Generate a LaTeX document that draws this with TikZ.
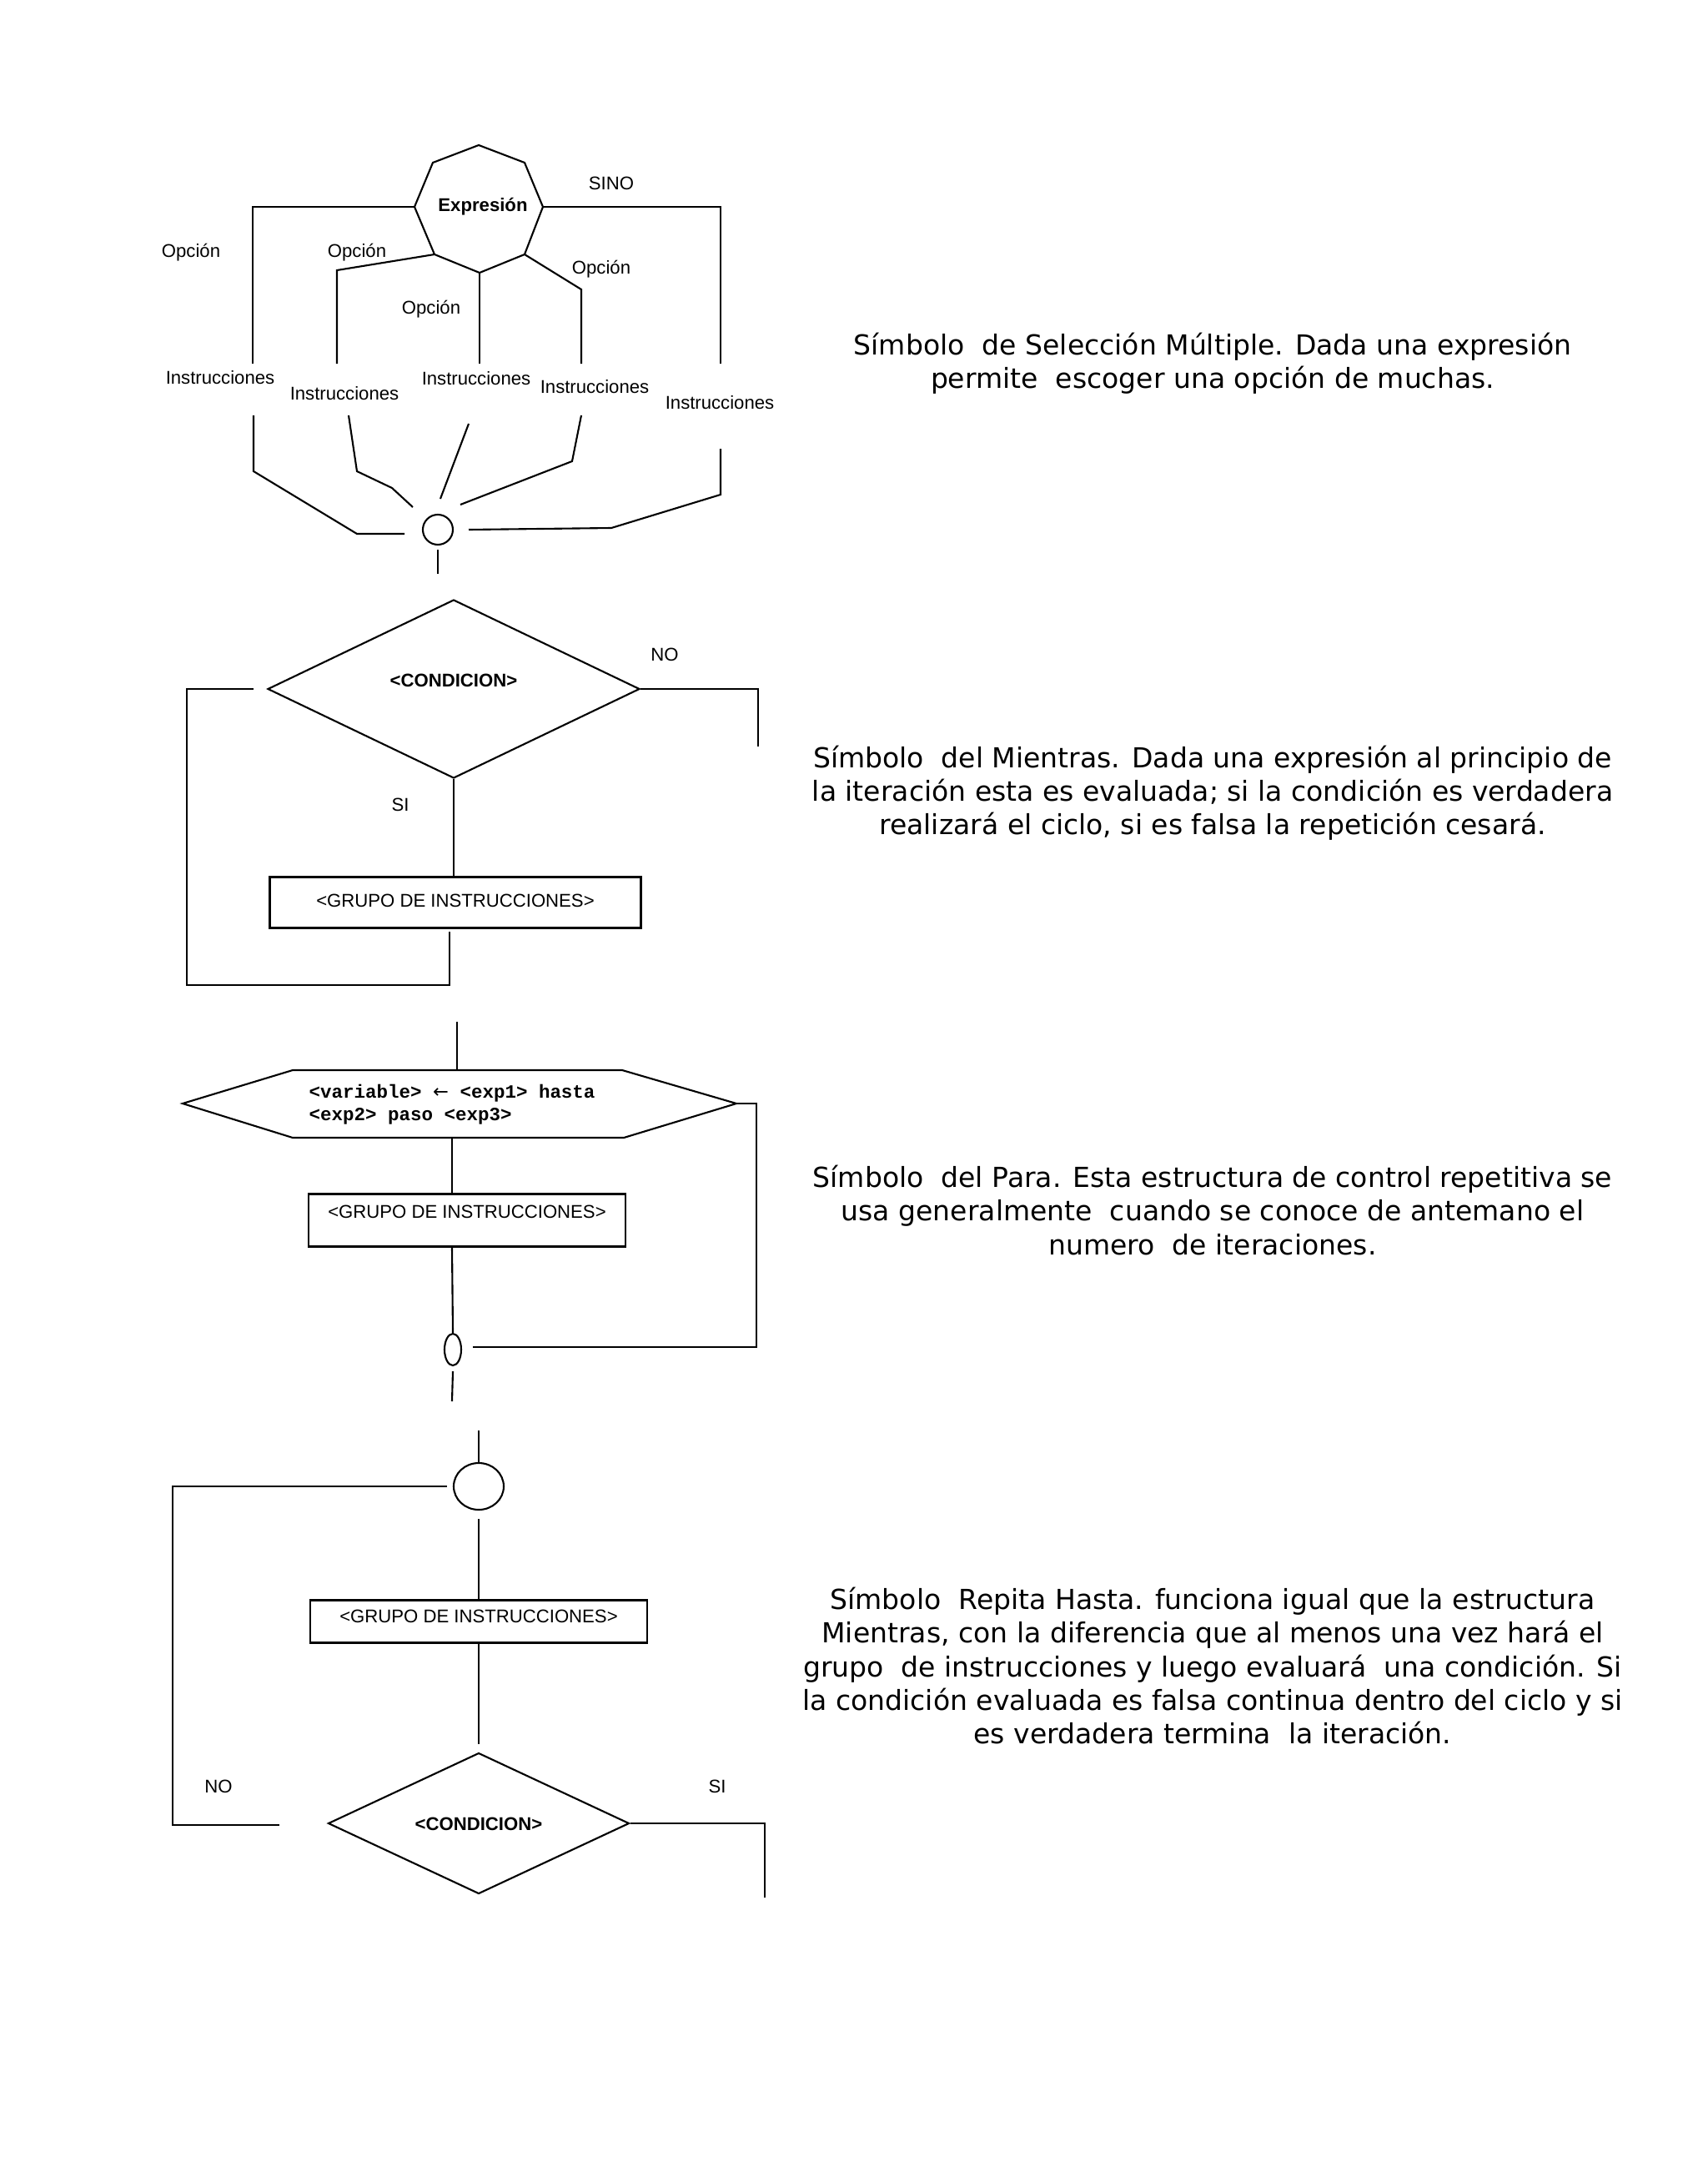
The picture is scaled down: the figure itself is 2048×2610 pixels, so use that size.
\documentclass[tikz,border=0pt]{standalone}
\usepackage{fontspec}
\setmainfont{DejaVu Sans}
\newfontfamily\diagfont{Liberation Sans}
\newfontfamily\codefont{Liberation Mono}
\usetikzlibrary{shapes.geometric}

\begin{document}
\begin{tikzpicture}[x=0.1mm, y=-0.1mm,
  wire/.style={line width=0.6pt, black},
  lbl/.style={font=\diagfont\fontsize{6.3}{7.5}\selectfont, inner sep=0pt},
  blbl/.style={font=\diagfont\bfseries\fontsize{6.3}{7.5}\selectfont, inner sep=0pt},
  box/.style={rectangle, draw, line width=0.6pt, inner sep=0pt, text height=4.6pt, font=\diagfont\fontsize{6.3}{7.5}\selectfont},
  cond/.style={diamond, draw, line width=0.6pt, inner sep=0pt, text height=4.6pt, font=\diagfont\bfseries\fontsize{6.3}{7.5}\selectfont},
  junc/.style={ellipse, draw, line width=0.6pt, inner sep=0pt},
  desc/.style={align=center, inner sep=0pt, font=\fontsize{9.4}{11.4}\selectfont}]
  \useasboundingbox (0,0) rectangle (2048,2610);
  % seleccion multiple
  \node[blbl] (expr) at (579,248) {Expresión};
  \coordinate (oT) at (574,174);  \coordinate (oUL) at (519,195);
  \coordinate (oL) at (497,248);  \coordinate (oLL) at (521,305);
  \coordinate (oB) at (575,327);  \coordinate (oLR) at (629,305);
  \coordinate (oR) at (651,248);  \coordinate (oUR) at (629,195);
  \draw[wire] (oT) -- (oUL) -- (oL) -- (oLL) -- (oB) -- (oLR) -- (oR) -- (oUR) -- cycle;
  \coordinate (i1t) at (303,436); \coordinate (i2t) at (404,436);
  \coordinate (i3t) at (575,436); \coordinate (i4t) at (697,436);
  \coordinate (i5t) at (864,436);
  \draw[wire] (oL) -| (i1t);
  \draw[wire] (oLL) -- (404,324) -- (i2t);
  \draw[wire] (oB) -- (i3t);
  \draw[wire] (oLR) -- (697,347) -- (i4t);
  \draw[wire] (oR) -| (i5t);
  \node[lbl] (op1) at (229,303) {Opción};
  \node[lbl] (op2) at (428,303) {Opción};
  \node[lbl] (op3) at (517,371) {Opción};
  \node[lbl] (op4) at (721,323) {Opción};
  \node[lbl] (sino) at (733,220) {SINO};
  \node[lbl] (ins1) at (264,453) {Instrucciones};
  \node[lbl] (ins2) at (413,472) {Instrucciones};
  \node[lbl] (ins3) at (571,454) {Instrucciones};
  \node[lbl] (ins4) at (713,464) {Instrucciones};
  \node[lbl] (ins5) at (863,483) {Instrucciones};
  \node[junc, minimum width=3.6mm, minimum height=3.6mm] (jn) at (525,635) {};
  \coordinate (i1b) at (304,498); \coordinate (j1) at (485,640);
  \coordinate (i2b) at (418,498); \coordinate (j2) at (495,608);
  \coordinate (i3b) at (562,508); \coordinate (j3) at (528,598);
  \coordinate (i4b) at (697,498); \coordinate (j4) at (552,605);
  \coordinate (i5b) at (864,538); \coordinate (j5) at (562,635);
  \coordinate (e1) at (525,688);
  \draw[wire] (i1b) -- (304,565) -- (428,640) -- (j1);
  \draw[wire] (i2b) -- (428,565) -- (470,585) -- (j2);
  \draw[wire] (i3b) -- (j3);
  \draw[wire] (i4b) -- (686,553) -- (j4);
  \draw[wire] (i5b) -- (864,593) -- (733,633) -- (j5);
  \draw[wire] ([yshift=-0.5mm]jn.south) -- (e1);
  \node[desc] (t1) at (1454,436) {Símbolo\ \ de Selección Múltiple. Dada una expresión\\permite\ \ escoger una opción de muchas.};
  % mientras
  \node[cond, text depth=6.3pt, minimum width=44.6mm, minimum height=21.4mm] (c1) at (544,826) {<CONDICION>};
  \node[box, text depth=1.6pt, minimum width=44.5mm, minimum height=6.1mm] (g1) at (546,1082) {<GRUPO DE INSTRUCCIONES>};
  \coordinate (w1) at (304,826); \coordinate (w2) at (539,1117);
  \coordinate (n1) at (909,895);
  \draw[wire] (c1.south) -- (g1.north -| c1.south);
  \draw[wire] (w1) -- (224,826) |- (539,1181) -- (w2);
  \draw[wire] (c1.east) -| (n1);
  \node[lbl] (no1) at (797,785) {NO};
  \node[lbl] (si1) at (480,965) {SI};
  \node[desc] (t2) at (1454,951) {Símbolo\ \ del Mientras. Dada una expresión al principio de\\la iteración esta es evaluada; si la condición es verdadera\\realizará el ciclo, si es falsa la repetición cesará.};
  % para
  \coordinate (hL) at (219,1323);  \coordinate (hTL) at (351,1283);
  \coordinate (hTR) at (746,1283); \coordinate (hR) at (883,1323);
  \coordinate (hBR) at (748,1364); \coordinate (hBL) at (351,1364);
  \coordinate (hT) at (548,1283);  \coordinate (hB) at (542,1364);
  \coordinate (p0) at (548,1225);
  \draw[wire] (hL) -- (hTL) -- (hTR) -- (hR) -- (hBR) -- (hBL) -- cycle;
  \node[anchor=west, align=left, inner sep=0pt, font=\codefont\bfseries\fontsize{6.4}{7.7}\selectfont] (para) at (370,1324) {<variable> {\rmfamily\mdseries ←} <exp1> hasta\\<exp2> paso <exp3>};
  \node[box, text depth=6pt, minimum width=38mm, minimum height=6.3mm] (g2) at (560,1463) {<GRUPO DE INSTRUCCIONES>};
  \node[junc, minimum width=2mm, minimum height=3.8mm] (fin) at (543,1618) {};
  \coordinate (p1) at (542,1680); \coordinate (r3) at (567,1615);
  \draw[wire] (p0) -- (hT);
  \draw[wire] (hB) -- (hB |- g2.north);
  \draw[wire] (hB |- g2.south) -- (fin.north);
  \draw[wire] ([yshift=-0.6mm]fin.south) -- (p1);
  \draw[wire] (hR) -- ++(24,0) |- (r3);
  \node[desc] (t3) at (1454,1451) {Símbolo\ \ del Para. Esta estructura de control repetitiva se\\usa generalmente\ \ cuando se conoce de antemano el\\numero\ \ de iteraciones.};
  % repita hasta
  \node[junc, minimum width=6mm, minimum height=5.6mm] (rep) at (574,1782) {};
  \node[box, text depth=4pt, minimum width=40.4mm, minimum height=5.1mm] (g3) at (574,1944) {<GRUPO DE INSTRUCCIONES>};
  \node[cond, minimum width=36.1mm, minimum height=15.7mm] (c2) at (574,2186) {<CONDICION>};
  \coordinate (q0) at (574,1715); \coordinate (q1) at (536,1782);
  \coordinate (q2) at (335,2188); \coordinate (q3) at (574,2091);
  \coordinate (q4) at (917,2275);
  \draw[wire] (q0) -- (rep.north);
  \draw[wire] (q1) -- ++(-329,0) |- (q2);
  \draw[wire] ([yshift=-1mm]rep.south) -- (g3.north);
  \draw[wire] (g3.south) -- (q3);
  \draw[wire] (c2.east) -| (q4);
  \node[lbl] (no2) at (262,2142) {NO};
  \node[lbl] (si2) at (860,2142) {SI};
  \node[desc] (t4) at (1454,1997) {Símbolo\ \ Repita Hasta. funciona igual que la estructura\\Mientras, con la diferencia que al menos una vez hará el\\grupo\ \ de instrucciones y luego evaluará\ \ una condición. Si\\la condición evaluada es falsa continua dentro del ciclo y si\\es verdadera termina\ \ la iteración.};
\end{tikzpicture}
\end{document}
